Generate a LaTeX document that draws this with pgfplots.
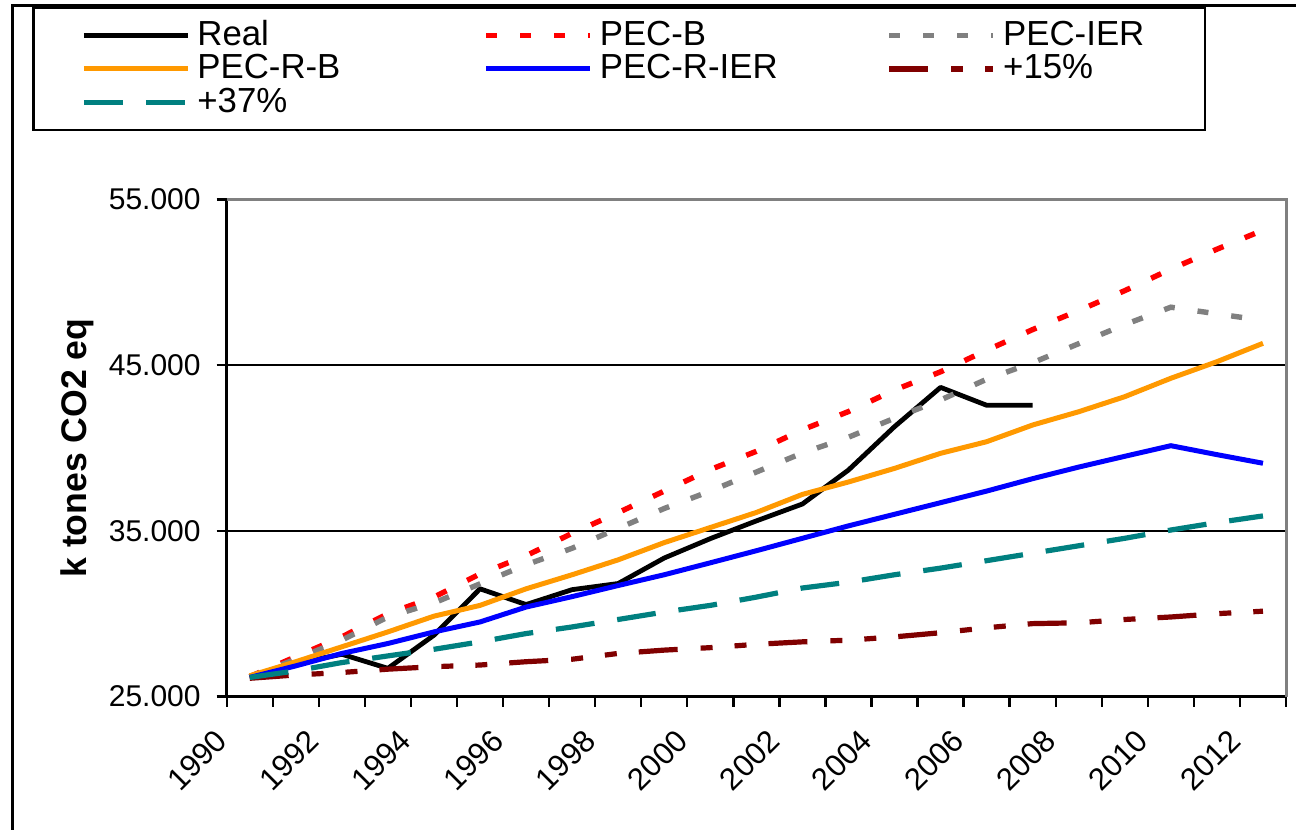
\documentclass[border=0pt]{standalone}
\usepackage{fontspec}
\setmainfont{Liberation Sans}
\usepackage{pgfplots}
\pgfplotsset{compat=1.18}
\usepackage{pgfplotstable}

\definecolor{pecorange}{HTML}{FF9900}
\definecolor{darkred15}{HTML}{800000}
\definecolor{teal37}{HTML}{008080}
\definecolor{borderg}{HTML}{808080}

% x = year + 0.5 (Excel plots each year in the middle of its category)
\pgfplotstableread{
x      real   pecb   pecier pecrb  pecrier p15    p37
1990.5 26200  26200  26200  26250  26150   26100  26150
1991.5 27000  27400  27250  27100  26850   26300  26550
1992.5 27550  28600  28400  28000  27600   26450  27050
1993.5 26700  30000  29800  28900  28200   26650  27450
1994.5 28700  31000  30650  29850  28900   26800  27850
1995.5 31500  32400  31800  30500  29500   26900  28300
1996.5 30550  33500  32950  31500  30400   27100  28800
1997.5 31450  34850  33950  32350  31030   27250  29200
1998.5 31820  36100  35150  33250  31700   27600  29650
1999.5 33360  37400  36350  34290  32350   27800  30100
2000.5 34530  38700  37400  35200  33070   27950  30500
2001.5 35600  39800  38550  36110  33800   28150  31000
2002.5 36620  41100  39700  37200  34550   28300  31550
2003.5 38670  42200  40650  37950  35300   28400  31900
2004.5 41290  43500  41800  38770  36000   28600  32350
2005.5 43660  44600  42900  39680  36700   28850  32750
2006.5 42580  45900  44150  40380  37400   29150  33200
2007.5 42580  47150  45150  41390  38150   29400  33650
2008.5 nan    48300  46300  42190  38850   29450  34100
2009.5 nan    49500  47450  43100  39500   29650  34550
2010.5 nan    50800  48500  44210  40140   29800  35050
2011.5 nan    52000  48100  45210  39600   30000  35500
2012.5 nan    53150  47700  46320  39080   30150  35900
}\coemis

\begin{document}
\begin{tikzpicture}
\path[use as bounding box] (0,0) rectangle (648pt,-415pt);
% outer chart frame (only its top and left edges are in view)
\draw[line width=1.5pt] (6pt,-416pt) -- (6pt,-2.5pt) -- (649pt,-2.5pt);

\begin{axis}[
  at={(113.35pt,-348.25pt)}, anchor=south west,
  width=529.65pt, height=248.5pt, scale only axis,
  xmin=1990, xmax=2013, ymin=25000, ymax=55000,
  axis x line*=bottom, axis y line*=left,
  axis line style={-, line width=1.3pt, black},
  xtick={1990,1992,...,2012},
  minor xtick={1991,1993,...,2013},
  xticklabels={1990,1992,1994,1996,1998,2000,2002,2004,2006,2008,2010,2012},
  ytick={25000,35000,45000,55000},
  yticklabels={25.000,35.000,45.000,55.000},
  scaled y ticks=false,
  tick align=outside,
  major tick length=5pt, minor tick length=5pt,
  every tick/.style={line width=1.2pt, black},
  ymajorgrids, grid style={line width=1.2pt, black},
  yticklabel style={font=\fontsize{15}{15}\selectfont, inner sep=0pt, anchor=east, xshift=-7.85pt},
  xticklabel style={font=\fontsize{15.5}{15.5}\selectfont, inner sep=0pt, xshift=-2.5pt, yshift=-14.5pt, rotate=45, anchor=east},
  ylabel={k tones CO2 eq},
  ylabel style={font=\fontsize{17.8}{17.8}\selectfont\bfseries, at={(axis description cs:-0.1248,0.5)}, anchor=south, inner sep=0pt},
  clip=false,
  legend columns=3,
  legend cell align=left,
  legend style={
    at={(-0.18342,1.38813)}, anchor=north west,
    draw=black, line width=1.2pt,
    inner xsep=23.8pt, inner ysep=5.5pt,
    font=\fontsize{17.4}{17.4}\selectfont,
    nodes={inner sep=0pt, text height=13.2pt, text depth=3.5pt},
    /tikz/every odd column/.append style={column sep=3.5pt},
    row sep=0pt,
  },
  legend image code/.code={\draw[#1] (0pt,0pt) -- (52pt,0pt);},
]
\addplot[black, line width=2.4pt, line join=round] table[x=x, y=real]{\coemis};
\addlegendentry{\makebox[143pt][l]{Real}}
\addplot[red, line width=2.7pt, dash pattern=on 5.5pt off 11.5pt] table[x=x, y=pecb]{\coemis};
\addlegendentry{\makebox[143.5pt][l]{PEC-B}}
\addplot[borderg, line width=2.7pt, dash pattern=on 5.5pt off 11.5pt] table[x=x, y=pecier]{\coemis};
\addlegendentry{\makebox[77pt][l]{PEC-IER}}
\addplot[pecorange, line width=2.5pt, line join=round] table[x=x, y=pecrb]{\coemis};
\addlegendentry{\makebox[143pt][l]{PEC-R-B}}
\addplot[blue, line width=2.5pt, line join=round] table[x=x, y=pecrier]{\coemis};
\addlegendentry{\makebox[143.5pt][l]{PEC-R-IER}}
\addplot[darkred15, line width=2.6pt, dash pattern=on 19.5pt off 11.5pt on 6pt off 11pt on 6pt off 11pt] table[x=x, y=p15]{\coemis};
\addlegendentry{\makebox[77pt][l]{+15\%}}
\addplot[teal37, line width=2.6pt, dash pattern=on 19.5pt off 11.5pt] table[x=x, y=p37]{\coemis};
\addlegendentry{\makebox[143pt][l]{+37\%}}
% plot-area border: grey on top and right
\draw[borderg, line width=1.5pt] (rel axis cs:0,1) -- (rel axis cs:1,1) -- (rel axis cs:1,0);
\end{axis}
\end{tikzpicture}
\end{document}
